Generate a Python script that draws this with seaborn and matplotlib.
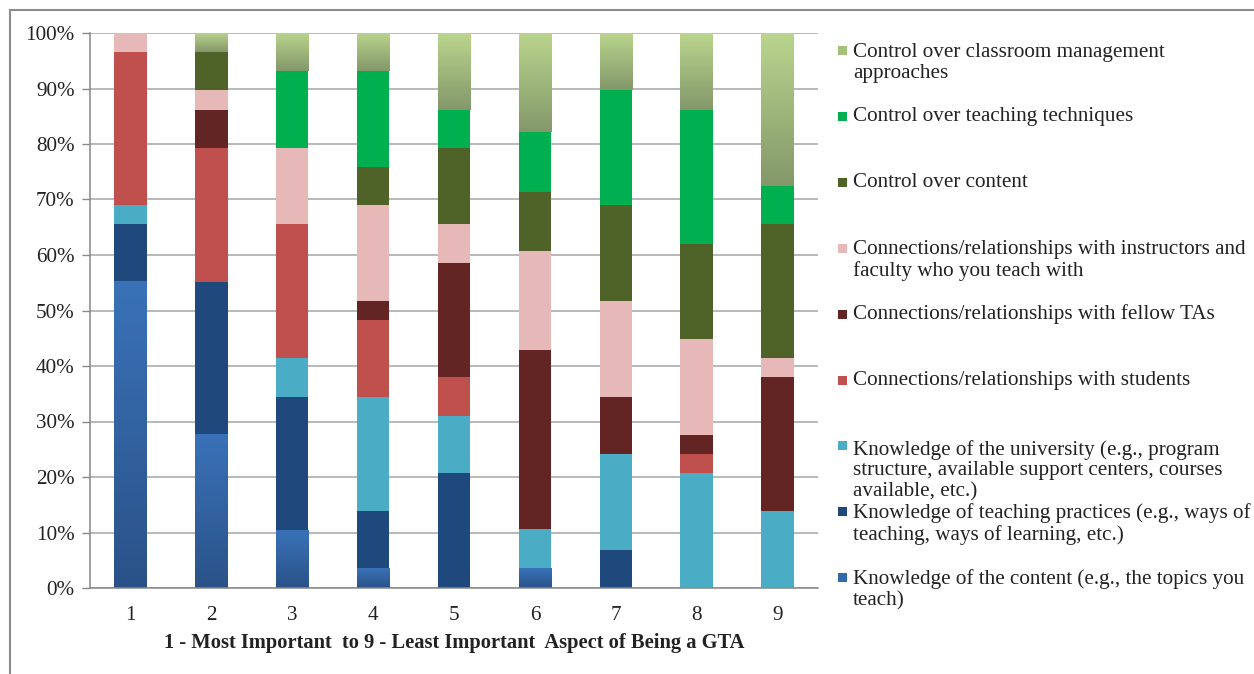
import numpy as np
import pandas as pd
import matplotlib
matplotlib.use("Agg")
import matplotlib.pyplot as plt
import matplotlib.colors as mcolors
from matplotlib.patches import Rectangle
from matplotlib.ticker import PercentFormatter, FixedLocator
import seaborn as sns

# ── data: number of respondents per rank (1 = most important ... 9 = least) ──
ranks = [1, 2, 3, 4, 5, 6, 7, 8, 9]

aspects = [
    "Knowledge of the content (e.g., the topics you\nteach)",
    "Knowledge of teaching practices (e.g., ways of\nteaching, ways of learning, etc.)",
    "Knowledge of the university (e.g., program\nstructure, available support centers, courses\navailable, etc.)",
    "Connections/relationships with students",
    "Connections/relationships with fellow TAs",
    "Connections/relationships with instructors and\nfaculty who you teach with",
    "Control over content",
    "Control over teaching techniques",
    "Control over classroom management\napproaches",
]

content_counts     = [16, 8, 3, 1, 0, 1, 0, 0, 0]
practices_counts   = [3, 8, 7, 3, 6, 0, 2, 0, 0]
university_counts  = [1, 0, 2, 6, 3, 2, 5, 6, 4]
students_counts    = [8, 7, 7, 4, 2, 0, 0, 1, 0]
fellow_tas_counts  = [0, 2, 0, 1, 6, 9, 3, 1, 7]
instructors_counts = [1, 1, 4, 5, 2, 5, 5, 5, 1]
ctrl_content_counts = [0, 2, 0, 2, 4, 3, 5, 5, 7]
ctrl_techniques_counts = [0, 0, 4, 5, 2, 3, 6, 7, 2]
ctrl_classroom_counts = [0, 1, 2, 2, 4, 5, 3, 4, 8]

colors = ["#3468ad", "#1f497d", "#4bacc6", "#c0504d", "#632523",
          "#e6b9b8", "#4f6228", "#00b050", "#a4c07a"]

all_counts = [content_counts, practices_counts, university_counts, students_counts,
              fellow_tas_counts, instructors_counts, ctrl_content_counts,
              ctrl_techniques_counts, ctrl_classroom_counts]

rows = []
for asp, cnts in zip(aspects, all_counts):
    for r, c in zip(ranks, cnts):
        rows.append({"rank": r, "aspect": asp, "count": c})
df = pd.DataFrame(rows)

# ── style ──
sns.set_theme(style="white")
plt.rcParams["font.family"] = ["Liberation Serif", "DejaVu Serif"]
FS = 15.2
GRID = "#a6a6a6"

W, H = 1254, 674
fig = plt.figure(figsize=(W / 100, H / 100), dpi=100)
x0, x1, y0, y1 = 90, 818, 33, 588
ax = fig.add_axes([x0 / W, 1 - y1 / H, (x1 - x0) / W, (y1 - y0) / H])

palette = dict(zip(aspects, colors))
sns.histplot(data=df, x="rank", hue="aspect", weights="count",
             hue_order=aspects[::-1], palette=palette,
             multiple="fill", discrete=True, shrink=0.4,
             alpha=1, linewidth=0, edgecolor="none", legend=False, ax=ax)

# gradient fills (Excel-like) for the bottom blue and top light-green series
grads = {
    colors[0]: ("#2a5288", "#3a72b8"),
    colors[8]: ("#84986a", "#bad58e"),
}
for p in list(ax.patches):
    fc = mcolors.to_hex(p.get_facecolor())
    if fc in grads and p.get_height() > 0:
        bx, by, bw, bh = p.get_x(), p.get_y(), p.get_width(), p.get_height()
        lo, hi = (np.array(mcolors.to_rgb(c)) for c in grads[fc])
        t = np.linspace(0, 1, 64)[:, None, None]
        img = lo + (hi - lo) * t
        ax.imshow(img, extent=(bx, bx + bw, by, by + bh), origin="lower",
                  aspect="auto", zorder=p.get_zorder() + 0.1, interpolation="bilinear")

ax.set_xlim(0.5, 9.5)
ax.set_ylim(0, 1)
ax.set_axisbelow(True)

# axes formatting
ax.yaxis.set_major_locator(FixedLocator(np.arange(0, 1.01, 0.1)))
ax.yaxis.set_major_formatter(PercentFormatter(1, decimals=0))
ax.grid(axis="y", color=GRID, linewidth=1.1)
ax.grid(axis="x", visible=False)
ax.set_xticks(ranks)
ax.set_xticklabels([str(r) for r in ranks])
ax.set_xticks(np.arange(0.5, 9.6, 1), minor=True)
ax.tick_params(axis="x", which="major", length=0, pad=13, labelsize=FS, colors="#222222")
ax.tick_params(axis="x", which="minor", length=6, width=1, color="#888888", direction="out")
ax.tick_params(axis="y", which="major", length=6, width=1, color="#888888",
               direction="out", left=True, pad=5, labelsize=FS, labelcolor="#222222")
for side in ["top", "right"]:
    ax.spines[side].set_visible(False)
for side in ["left", "bottom"]:
    ax.spines[side].set_color("#888888")
    ax.spines[side].set_linewidth(1.1)
ax.set_ylabel("")
ax.set_xlabel("1 - Most Important  to 9 - Least Important  Aspect of Being a GTA",
              fontsize=14.8, fontweight="bold", labelpad=6, color="#222222")

# legend (reverse order, top entry = last series)
leg_first_y = 50.5
leg_step = 65.9
line_h = 24.5
for i, (asp, col) in enumerate(zip(aspects[::-1], colors[::-1])):
    yc = leg_first_y + i * leg_step
    nlines = asp.count("\n") + 1
    fig.patches.append(Rectangle((838 / W, 1 - (yc + 4.5) / H), 9 / W, 9 / H,
                                 transform=fig.transFigure, facecolor=col,
                                 edgecolor="none"))
    fig.text(853 / W, 1 - (yc + (nlines - 1) * line_h / 2) / H, asp,
             fontsize=FS, va="center", ha="left", color="#222222", linespacing=1.12)

# chart-area border
fig.patches.append(Rectangle((10 / W, -0.2), 2, 1 - 10 / H + 0.2,
                             transform=fig.transFigure, facecolor="none",
                             edgecolor="#8c8c8c", linewidth=1.5))

fig.savefig("out.png", dpi=100, facecolor="white")
